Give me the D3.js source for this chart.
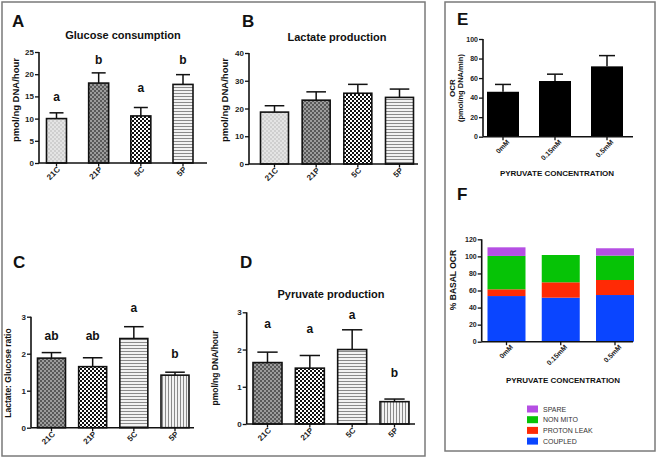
<!DOCTYPE html>
<html><head><meta charset="utf-8">
<script src="https://cdn.jsdelivr.net/npm/d3@7"></script>
<style>
body{margin:0;background:#fff;}
svg{display:block;font-family:"Liberation Sans",Arial,sans-serif;}
</style></head>
<body><svg id="c" width="658" height="460"></svg>
<script>
// ---------- DATA ----------
const groups = ["21C", "21P", "5C", "5P"];
const glucoseMean = [10.0, 18.0, 10.6, 17.7];
const glucoseErr = [1.3, 2.3, 1.9, 2.2];
const glucoseLetters = ["a", "b", "a", "b"];
const lactateMean = [18.7, 23.0, 25.5, 24.0];
const lactateErr = [2.3, 3.0, 3.2, 3.0];
const ratioMean = [1.88, 1.65, 2.41, 1.42];
const ratioErr = [0.15, 0.24, 0.32, 0.08];
const ratioLetters = ["ab", "ab", "a", "b"];
const pyruvateMean = [1.65, 1.50, 2.00, 0.60];
const pyruvateErr = [0.28, 0.34, 0.53, 0.07];
const pyruvateLetters = ["a", "a", "a", "b"];
const concentrations = ["0mM", "0.15mM", "0.5mM"];
const ocrMean = [46, 57, 72];
const ocrErr = [7.5, 7, 11];
const coupled = [53.5, 51.6, 54.7];
const protonLeak = [7.9, 18.0, 17.6];
const nonMito = [39.1, 32.0, 28.6];
const spare = [10.1, 0, 8.6];
const stackKeys = ["COUPLED", "PROTON LEAK", "NON MITO", "SPARE"];
const legendOrder = ["SPARE", "NON MITO", "PROTON LEAK", "COUPLED"];
const ticksA = [0, 5, 10, 15, 20, 25];
const ticksB = [0, 10, 20, 30, 40];
const ticksCD = [0, 1, 2, 3];
const ticksE = [0, 20, 40, 60, 80, 100];
const ticksF = [0, 20, 40, 60, 80, 100, 120];

const svg = d3.select("#c");
const FONT = '"Liberation Sans",Arial,sans-serif';

// ---------- PATTERNS ----------
const defs = svg.append("defs");
function pat(id, w, h, bg, rects) {
  const p = defs.append("pattern").attr("id", id).attr("patternUnits", "userSpaceOnUse")
    .attr("width", w).attr("height", h);
  p.append("rect").attr("width", w).attr("height", h).attr("fill", bg);
  rects.forEach(r => p.append("rect").attr("x", r[0]).attr("y", r[1]).attr("width", r[2]).attr("height", r[3]).attr("fill", r[4]));
}
pat("pLight", 4, 4, "#e4e4e4", [[0,0,2,2,"#cfcfcf"],[2,2,2,2,"#cfcfcf"]]);
pat("pDark", 4, 4, "#9c9c9c", [[0,0,2,2,"#595959"],[2,2,2,2,"#595959"]]);
pat("pCheck", 4, 4, "#ffffff", [[0,0,2,2,"#111"],[2,2,2,2,"#111"]]);
pat("pH", 3, 3, "#f2f2f2", [[0,0,3,1,"#8a8a8a"]]);
pat("pV", 3, 3, "#f2f2f2", [[0,0,1,3,"#8a8a8a"]]);

// ---------- FRAMES ----------
svg.append("rect").attr("x", 2).attr("y", 2).attr("width", 423).attr("height", 454)
  .attr("fill", "none").attr("stroke", "#7a7a7a").attr("stroke-width", 1.5);
svg.append("rect").attr("x", 445).attr("y", 2).attr("width", 210).attr("height", 449)
  .attr("fill", "none").attr("stroke", "#7a7a7a").attr("stroke-width", 1.5);

function text(x, y, s, size, opts = {}) {
  const t = svg.append("text").attr("x", x).attr("y", y).text(s)
    .attr("font-size", size).attr("font-weight", opts.weight || "bold")
    .attr("fill", opts.fill || "#111").attr("text-anchor", opts.anchor || "middle")
    .attr("font-family", FONT);
  if (opts.rotate) t.attr("transform", `rotate(${opts.rotate},${x},${y})`);
  return t;
}

function axes(cfg, cats, x, y) {
  const g = svg.append("g");
  const ya = d3.axisLeft(y).tickValues(cfg.ticks).tickSize(4).tickPadding(1).tickFormat(d3.format("d"));
  const gy = g.append("g").attr("transform", `translate(${cfg.x0},0)`).call(ya);
  gy.select(".domain").attr("stroke", "#111").attr("stroke-width", 1.6)
    .attr("d", `M0,${y(0)}V${y(cfg.ticks[cfg.ticks.length-1])}`);
  gy.selectAll(".tick line").attr("stroke", "#111").attr("stroke-width", 1.3);
  gy.selectAll(".tick text").attr("font-size", cfg.tickSize || 8).attr("font-weight", "bold")
    .attr("font-family", FONT).attr("fill", "#222");
  g.append("line").attr("x1", cfg.x0).attr("x2", cfg.x1).attr("y1", y(0)).attr("y2", y(0))
    .attr("stroke", "#111").attr("stroke-width", 1.6);
  cats.forEach(c => {
    g.append("line").attr("x1", x(c)).attr("x2", x(c)).attr("y1", y(0)).attr("y2", y(0) + 3.5)
      .attr("stroke", "#111").attr("stroke-width", 1.3);
    const tx = x(c) + (cfg.lblDx || 4), ty = y(0) + (cfg.lblDy || 7);
    text(tx, ty, c, cfg.tickSize || 8, {anchor: "end", rotate: -45, fill: "#222"});
  });
}

function barPanel(cfg) {
  const x = d3.scalePoint().domain(groups).range(cfg.cx);
  const y = d3.scaleLinear().domain([0, cfg.ticks[cfg.ticks.length-1]]).range(cfg.yr);
  const bw = cfg.bw;
  const g = svg.append("g");
  groups.forEach((gname, i) => {
    const m = cfg.mean[i], e = cfg.err[i], cx = x(gname);
    g.append("line").attr("x1", cx).attr("x2", cx).attr("y1", y(m)).attr("y2", y(m + e))
      .attr("stroke", "#111").attr("stroke-width", 1.5);
    g.append("line").attr("x1", cx - bw * 0.35).attr("x2", cx + bw * 0.35).attr("y1", y(m + e)).attr("y2", y(m + e))
      .attr("stroke", "#111").attr("stroke-width", 1.5);
    g.append("rect").attr("x", cx - bw / 2).attr("y", y(m)).attr("width", bw).attr("height", y(0) - y(m))
      .attr("fill", `url(#${cfg.fills[i]})`).attr("stroke", "#111").attr("stroke-width", 1.6);
    if (cfg.letters) text(cx, y(m + e) - cfg.letterOff[i], cfg.letters[i], 12);
  });
  axes(cfg, groups, x, y);
}

// Panel A
barPanel({mean: glucoseMean, err: glucoseErr, letters: glucoseLetters, letterOff: [12, 9, 16, 10.5],
  ticks: ticksA, x0: 39, x1: 207, cx: [56.5, 183], yr: [163, 52], bw: 20,
  fills: ["pLight", "pDark", "pCheck", "pH"]});
text(12, 27, "A", 17, {anchor: "start"});
text(123, 39, "Glucose consumption", 11);
text(18.5, 100, "pmol/ng DNA/hour", 9.5, {rotate: -90});

// Panel B
barPanel({mean: lactateMean, err: lactateErr, ticks: ticksB, x0: 249, x1: 418,
  cx: [274.5, 399.5], yr: [164, 53], bw: 28, fills: ["pLight", "pDark", "pCheck", "pH"]});
text(242, 27, "B", 17, {anchor: "start"});
text(337, 41, "Lactate production", 11);
text(228, 100, "pmol/ng DNA/hour", 9.5, {rotate: -90});

// Panel C
barPanel({mean: ratioMean, err: ratioErr, letters: ratioLetters, letterOff: [12.5, 17.5, 14.5, 14],
  ticks: ticksCD, x0: 31, x1: 194, cx: [51.5, 175], yr: [427.7, 316.7], bw: 28,
  fills: ["pDark", "pCheck", "pH", "pV"]});
text(13, 268, "C", 17, {anchor: "start"});
text(11, 373, "Lactate: Glucose ratio", 8.5, {rotate: -90});

// Panel D
barPanel({mean: pyruvateMean, err: pyruvateErr, letters: pyruvateLetters, letterOff: [24, 22.5, 10.5, 22],
  ticks: ticksCD, x0: 246.7, x1: 415, cx: [267.5, 394.5], yr: [424, 312.3], bw: 29,
  fills: ["pDark", "pCheck", "pH", "pV"]});
text(240, 268, "D", 17, {anchor: "start"});
text(331, 298, "Pyruvate production", 11);
text(218, 368, "pmol/ng DNA/hour", 8.5, {rotate: -90});

// Panel E
(function () {
  const x = d3.scalePoint().domain(concentrations).range([503, 607]);
  const y = d3.scaleLinear().domain([0, 100]).range([136.7, 39]);
  const bw = 32;
  concentrations.forEach((c, i) => {
    const m = ocrMean[i], e = ocrErr[i], cx = x(c);
    svg.append("line").attr("x1", cx).attr("x2", cx).attr("y1", y(m)).attr("y2", y(m + e))
      .attr("stroke", "#111").attr("stroke-width", 1.5);
    svg.append("line").attr("x1", cx - 8).attr("x2", cx + 8).attr("y1", y(m + e)).attr("y2", y(m + e))
      .attr("stroke", "#111").attr("stroke-width", 1.5);
    svg.append("rect").attr("x", cx - bw / 2).attr("y", y(m)).attr("width", bw).attr("height", y(0) - y(m))
      .attr("fill", "#000");
  });
  axes({ticks: ticksE, x0: 483, x1: 633, tickSize: 7, lblDx: 7, lblDy: 6}, concentrations, x, y);
  text(457, 25, "E", 17, {anchor: "start"});
  text(455, 88, "OCR", 8, {rotate: -90});
  text(463, 88, "(pmol/ng DNA/min)", 7.5, {rotate: -90});
  text(557, 176, "PYRUVATE CONCENTRATION", 8);
})();

// Panel F
(function () {
  const colors = {"COUPLED": "#0a45ff", "PROTON LEAK": "#ff2a05", "NON MITO": "#06c306", "SPARE": "#b54fe3"};
  const rows = concentrations.map((c, i) => ({c, "COUPLED": coupled[i], "PROTON LEAK": protonLeak[i],
    "NON MITO": nonMito[i], "SPARE": spare[i]}));
  const series = d3.stack().keys(stackKeys)(rows);
  const x = d3.scalePoint().domain(concentrations).range([506.5, 615]);
  const y = d3.scaleLinear().domain([0, 120]).range([341.7, 239.3]);
  const bw = 38;
  series.forEach(s => {
    s.forEach(d => {
      if (d[1] - d[0] <= 0) return;
      svg.append("rect").attr("x", x(d.data.c) - bw / 2).attr("y", y(d[1])).attr("width", bw)
        .attr("height", y(d[0]) - y(d[1])).attr("fill", colors[s.key]);
    });
  });
  axes({ticks: ticksF, x0: 481.7, x1: 633, tickSize: 7, lblDx: 7, lblDy: 6}, concentrations, x, y);
  text(457, 200, "F", 17, {anchor: "start"});
  text(456, 280, "% BASAL OCR", 8.5, {rotate: -90});
  text(563, 383, "PYRUVATE CONCENTRATION", 8);
  legendOrder.forEach((k, i) => {
    const ly = 409 + i * 10.7;
    svg.append("rect").attr("x", 527).attr("y", ly - 3.5).attr("width", 11).attr("height", 7).attr("fill", colors[k]);
    text(543, ly + 2.5, k, 7, {anchor: "start", weight: "normal", fill: "#333"});
  });
})();
</script></body></html>
